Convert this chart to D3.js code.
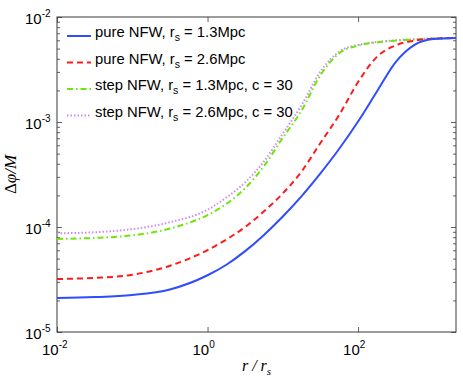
<!DOCTYPE html>
<html>
<head>
<meta charset="utf-8">
<script src="https://cdn.jsdelivr.net/npm/d3@7"></script>
<style>
body { margin: 0; background: #fff; }
text { font-family: "Liberation Sans", Arial, sans-serif; fill: #000; }
.math { font-family: "Liberation Serif", "DejaVu Serif", serif; font-style: italic; }
</style>
</head>
<body>
<div id="vis"></div>
<script>
// r / r_s sample grid
const rValues = [0.01, 0.0316, 0.1, 0.316, 1, 1.78, 3.16, 5.62, 10, 17.8, 31.6, 56.2, 100, 178, 316, 562, 1000, 2000];

// delta phi / M
const pureNfw13 = [2.11e-5, 2.15e-5, 2.25e-5, 2.54e-5, 3.47e-5, 4.37e-5, 5.89e-5, 8.41e-5, 1.26e-4, 1.97e-4, 3.24e-4, 5.56e-4, 1.01e-3, 1.95e-3, 3.72e-3, 5.43e-3, 6.17e-3, 6.31e-3];
const pureNfw26 = [3.20e-5, 3.27e-5, 3.51e-5, 4.27e-5, 6.03e-5, 7.59e-5, 1.00e-4, 1.41e-4, 2.09e-4, 3.39e-4, 6.31e-4, 1.17e-3, 2.40e-3, 4.17e-3, 5.37e-3, 5.96e-3, 6.21e-3, 6.31e-3];
const stepNfw13 = [7.69e-5, 7.87e-5, 8.32e-5, 9.66e-5, 1.30e-4, 1.66e-4, 2.34e-4, 3.80e-4, 7.08e-4, 1.29e-3, 2.79e-3, 4.52e-3, 5.35e-3, 5.73e-3, 5.96e-3, 6.12e-3, 6.24e-3, 6.31e-3];
const stepNfw26 = [8.71e-5, 8.91e-5, 9.55e-5, 1.11e-4, 1.46e-4, 1.91e-4, 2.66e-4, 4.22e-4, 7.76e-4, 1.45e-3, 3.02e-3, 4.68e-3, 5.43e-3, 5.78e-3, 6.00e-3, 6.14e-3, 6.24e-3, 6.31e-3];

const legendHeads = ["pure NFW, r", "pure NFW, r", "step NFW, r", "step NFW, r"];
const legendTails = [" = 1.3Mpc", " = 2.6Mpc", " = 1.3Mpc, c = 30", " = 2.6Mpc, c = 30"];

const xTickValues = [1e-2, 1, 1e2];
const yTickValues = [1e-5, 1e-4, 1e-3, 1e-2];

const W = 463, H = 376;
const margin = { left: 57, right: 7, top: 17, bottom: 44 };

const svg = d3.select("#vis").append("svg")
	.attr("width", W)
	.attr("height", H);

const x = d3.scaleLog().domain([0.01, 2000]).range([margin.left, W - margin.right]);
const y = d3.scaleLog().domain([1e-5, 1e-2]).range([H - margin.bottom, margin.top]);

const x0 = x.range()[0], x1 = x.range()[1];
const y0 = y.range()[0], y1 = y.range()[1];

// minor ticks on y (2..9 per decade)
const yMinor = y.ticks().filter(d => !yTickValues.some(t => Math.abs(d / t - 1) < 1e-6));

const axisColor = "#3a3a3a";
const styleAxis = g => {
	g.select(".domain").remove();
	g.selectAll(".tick line").attr("stroke", axisColor).attr("stroke-width", 0.8);
};

svg.append("g").attr("transform", `translate(0,${y0})`)
	.call(d3.axisBottom(x).tickValues(xTickValues).tickSizeInner(-5).tickSizeOuter(0).tickFormat(""))
	.call(styleAxis);
svg.append("g").attr("transform", `translate(0,${y1})`)
	.call(d3.axisTop(x).tickValues(xTickValues).tickSizeInner(-5).tickSizeOuter(0).tickFormat(""))
	.call(styleAxis);
svg.append("g").attr("transform", `translate(${x0},0)`)
	.call(d3.axisLeft(y).tickValues(yTickValues).tickSizeInner(-5).tickSizeOuter(0).tickFormat(""))
	.call(styleAxis);
svg.append("g").attr("transform", `translate(${x0},0)`)
	.call(d3.axisLeft(y).tickValues(yMinor).tickSizeInner(-3).tickSizeOuter(0).tickFormat(""))
	.call(styleAxis);
svg.append("g").attr("transform", `translate(${x1},0)`)
	.call(d3.axisRight(y).tickValues(yTickValues).tickSizeInner(-5).tickSizeOuter(0).tickFormat(""))
	.call(styleAxis);
svg.append("g").attr("transform", `translate(${x1},0)`)
	.call(d3.axisRight(y).tickValues(yMinor).tickSizeInner(-3).tickSizeOuter(0).tickFormat(""))
	.call(styleAxis);

// box
svg.append("rect")
	.attr("x", x0).attr("y", y1)
	.attr("width", x1 - x0).attr("height", y0 - y1)
	.attr("fill", "none")
	.attr("stroke", axisColor)
	.attr("stroke-width", 1);

const expLabel = (g, v) => {
	const e = Math.round(Math.log10(v));
	const t = g.append("text");
	t.append("tspan").attr("font-size", 15).text("10");
	t.append("tspan").attr("font-size", 10).attr("dy", -7).text(e);
	return t;
};

// x tick labels
xTickValues.forEach(v => {
	expLabel(svg, v)
		.attr("x", x(v) - 15)
		.attr("y", y0 + 23);
});

// y tick labels
yTickValues.forEach(v => {
	expLabel(svg, v)
		.attr("x", 25)
		.attr("y", y(v) + 7);
});

// axis titles
svg.append("text")
	.attr("class", "math")
	.attr("text-anchor", "middle")
	.attr("x", (x0 + x1) / 2)
	.attr("y", H - 5)
	.attr("font-size", 16)
	.call(t => {
		t.append("tspan").text("r / r");
		t.append("tspan").attr("font-size", 11).attr("dy", 4).text("s");
	});

svg.append("text")
	.attr("class", "math")
	.attr("text-anchor", "middle")
	.attr("transform", `translate(16,${(y0 + y1) / 2}) rotate(-90)`)
	.attr("font-size", 17)
	.call(t => {
		t.append("tspan").attr("font-style", "normal").text("Δ");
		t.append("tspan").text("φ/M");
	});

const series = [
	{ values: pureNfw13, color: "#2f4cff", dash: null },
	{ values: pureNfw26, color: "#ff1a1a", dash: "6,4" },
	{ values: stepNfw13, color: "#6ee60a", dash: "6,3,1.5,3" },
	{ values: stepNfw26, color: "#d08cf5", dash: "1.5,2" }
];

const line = d3.line()
	.x(d => x(d[0]))
	.y(d => y(d[1]))
	.curve(d3.curveMonotoneX);

svg.append("defs").append("clipPath").attr("id", "clip")
	.append("rect")
	.attr("x", x0).attr("y", y1)
	.attr("width", x1 - x0).attr("height", y0 - y1);

const plot = svg.append("g").attr("clip-path", "url(#clip)");

// draw in reverse so the blue line ends on top
series.slice().reverse().forEach(s => {
	plot.append("path")
		.datum(rValues.map((r, i) => [r, s.values[i]]))
		.attr("d", line)
		.attr("fill", "none")
		.attr("stroke", s.color)
		.attr("stroke-width", 2)
		.attr("stroke-dasharray", s.dash);
});

// legend
const legend = svg.append("g");
series.forEach((s, i) => {
	const ly = 36 + i * 26.5;
	legend.append("line")
		.attr("x1", 67).attr("x2", 91)
		.attr("y1", ly).attr("y2", ly)
		.attr("stroke", s.color)
		.attr("stroke-width", 2)
		.attr("stroke-dasharray", s.dash);
	const t = legend.append("text")
		.attr("x", 95)
		.attr("y", ly + 1)
		.attr("font-size", 14.8);
	t.append("tspan").text(legendHeads[i]);
	t.append("tspan").attr("font-size", 10.5).attr("dy", 4).text("s");
	t.append("tspan").attr("dy", -4).text(legendTails[i]);
});
</script>
</body>
</html>
